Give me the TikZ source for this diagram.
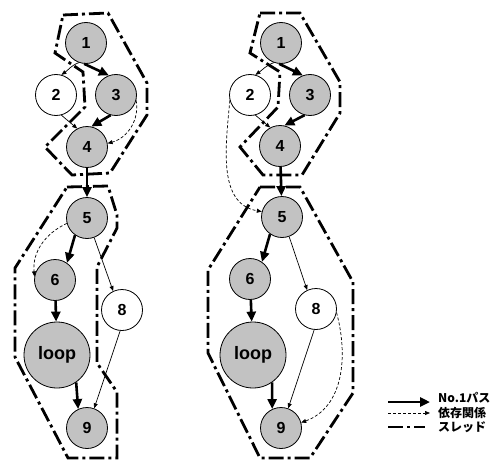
\documentclass[tikz,border=0pt]{standalone}
\usepackage{fontspec}
\setmainfont{Liberation Sans}
\newfontfamily\jpfont{Noto Sans CJK JP}
\usetikzlibrary{arrows.meta}

\begin{document}
\begin{tikzpicture}[x=1pt,y=-1pt,
  task/.style={circle,draw,line width=0.8pt,fill=black!24,minimum size=41pt,inner sep=0pt,
    font=\bfseries\fontsize{16}{16}\selectfont},
  free/.style={task,fill=white},
  bigtask/.style={task,minimum size=66pt,font=\bfseries\fontsize{18}{18}\selectfont},
  mainpath/.style={line width=2.6pt,-{Triangle[length=10pt,width=9pt]}},
  flow/.style={line width=0.7pt,-{Triangle[length=5pt,width=4pt]}},
  depend/.style={line width=0.7pt,dash pattern=on 3pt off 2pt,-{Triangle[length=5pt,width=4pt]}},
  thread/.style={line width=2.8pt,dash pattern=on 15pt off 4pt on 3pt off 4pt},
  legendtext/.style={anchor=west,inner sep=0pt,font=\jpfont\bfseries\fontsize{12}{12}\selectfont}
]
\useasboundingbox (0,0) rectangle (500,460);

% ---- thread boundaries ----
\draw[thread] (63,15) -- (108,13) -- (147,83) -- (147,115) -- (110,173) -- (72,175)
  -- (45,147) -- (85,107) -- (83,72) -- (55,53) -- cycle;
\draw[thread] (67,187) -- (108,186) -- (117,215) -- (117,228) -- (97,267) -- (97,363)
  -- (117,392) -- (117,458) -- (68,458) -- (15,357) -- (15,268) -- cycle;
\draw[thread] (260,13) -- (300,13) -- (340,82) -- (340,113) -- (302,175) -- (263,175)
  -- (240,147) -- (278,107) -- (280,72) -- (250,53) -- cycle;
\draw[thread] (260,187) -- (300,187) -- (353,282) -- (353,393) -- (310,458) -- (260,458)
  -- (208,353) -- (208,270) -- cycle;

% ---- left graph ----
\node[task] (l1) at (86,43) {1};
\node[free] (l2) at (56,95) {2};
\node[task] (l3) at (116,95) {3};
\node[task] (l4) at (87,147) {4};
\node[task] (l5) at (87,218) {5};
\node[task] (l6) at (55,280) {6};
\node[free] (l8) at (122,310) {8};
\node[bigtask] (lloop) at (57,355) {loop};
\node[task] (l9) at (87,428) {9};

\draw[flow] (l1.250) to[out=200,in=35] (l2.75);
\draw[mainpath] (l1.265) -- (l3.110);
\draw[flow] (l2.285) -- (l4.118);
\draw[mainpath] (l3.255) -- (l4.78);
\draw[depend] (l3.-15) to[out=-80,in=15] (l4.10);
\draw[mainpath] (l4) -- (l5);
\draw[mainpath] (l5.235) -- (l6.55);
\draw[depend] (l5.195) to[out=205,in=95] (l6.170);
\draw[flow] (l5.290) -- (l8.115);
\draw[mainpath] (l6) -- (lloop);
\draw[mainpath] (lloop.-55) -- (l9.115);
\draw[flow] (l8.265) -- (l9.70);

% ---- right graph ----
\node[task] (r1) at (281,43) {1};
\node[free] (r2) at (250,95) {2};
\node[task] (r3) at (310,95) {3};
\node[task] (r4) at (280,146) {4};
\node[task] (r5) at (282,217) {5};
\node[task] (r6) at (250,279) {6};
\node[free] (r8) at (316,309) {8};
\node[bigtask] (rloop) at (253,355) {loop};
\node[task] (r9) at (281,428) {9};

\draw[flow] (r1.250) to[out=200,in=35] (r2.75);
\draw[mainpath] (r1.265) -- (r3.110);
\draw[flow] (r2.285) -- (r4.118);
\draw[mainpath] (r3.255) -- (r4.78);
\draw[depend] (r2.195) to[out=-95,in=170] (r5.165);
\draw[mainpath] (r4) -- (r5);
\draw[mainpath] (r5.235) -- (r6.55);
\draw[flow] (r5.290) -- (r8.115);
\draw[mainpath] (r6) -- (rloop);
\draw[mainpath] (rloop.-55) -- (r9.115);
\draw[flow] (r8.265) -- (r9.70);
\draw[depend] (r8.-10) to[out=-75,in=20] (r9.15);

% ---- legend ----
\coordinate (ka) at (388,402);
\coordinate (kb) at (430,402);
\coordinate (kc) at (388,413);
\coordinate (kd) at (430,413);
\coordinate (ke) at (388,427);
\coordinate (kf) at (425,427);
\draw[mainpath] (ka) -- (kb);
\draw[depend] (kc) -- (kd);
\draw[thread] (ke) -- (kf);
\node[legendtext] (t1) at (438,398) {No.1パス};
\node[legendtext] (t2) at (438,413) {依存関係};
\node[legendtext] (t3) at (438,427) {スレッド};
\end{tikzpicture}
\end{document}
